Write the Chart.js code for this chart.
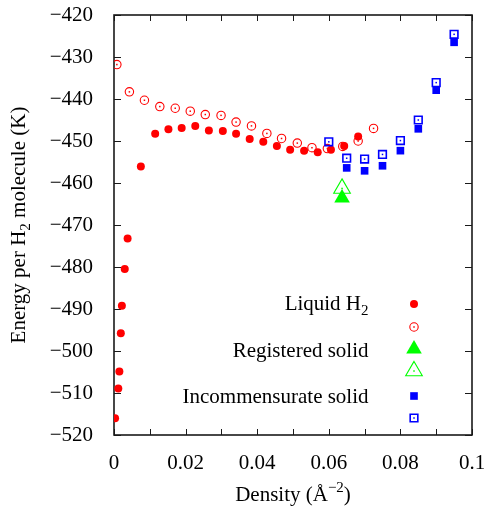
<!DOCTYPE html>
<html>
<head>
<meta charset="utf-8">
<script src="https://cdn.jsdelivr.net/npm/chart.js@4.4.0/dist/chart.umd.min.js"></script>
<style>
  html, body { margin: 0; padding: 0; background: #fff; }
</style>
</head>
<body>
<canvas id="chart" width="488" height="508"></canvas>
<script>
// density in 1/A^2, energy per H2 molecule in K
const liquidDensity = [0.0003, 0.0012, 0.0015, 0.0019, 0.0022, 0.0030, 0.0038, 0.0075, 0.0115, 0.0152, 0.0189, 0.0227,
  0.0265, 0.0304, 0.0341, 0.0379, 0.0417, 0.0455, 0.0492, 0.0531, 0.0569, 0.0606, 0.0643, 0.0682]
const liquidEnergy = [-516.0, -508.9, -504.9, -495.8, -489.2, -480.5, -473.2, -456.1, -448.3, -447.2, -446.9, -446.4,
  -447.5, -447.6, -448.3, -449.5, -450.2, -451.2, -452.1, -452.3, -452.7, -452.1, -451.2, -448.9]
const liquidOpenDensity = [0.0008, 0.0043, 0.0085, 0.0128, 0.0171, 0.0213, 0.0255, 0.0299, 0.0341, 0.0384, 0.0427,
  0.0468, 0.0512, 0.0553, 0.0596, 0.0639, 0.0682, 0.0725]
const liquidOpenEnergy = [-431.8, -438.3, -440.3, -441.8, -442.2, -442.9, -443.7, -443.9, -445.5, -446.4, -448.2,
  -449.4, -450.5, -451.6, -451.8, -451.3, -450.0, -447.0]
const registeredDensity = [0.0637]
const registeredEnergy = [-463.6]
const registeredOpenDensity = [0.0637]
const registeredOpenEnergy = [-461.3]
const incommDensity = [0.065, 0.070, 0.075, 0.080, 0.085, 0.090, 0.095]
const incommEnergy = [-456.4, -457.1, -455.9, -452.3, -447.1, -437.9, -426.5]
const incommOpenDensity = [0.060, 0.065, 0.070, 0.075, 0.080, 0.085, 0.090, 0.095]
const incommOpenEnergy = [-450.2, -454.1, -454.3, -453.2, -449.9, -445.0, -436.1, -424.6]

const xTickLabels = ['0', '0.02', '0.04', '0.06', '0.08', '0.1']
const yTickLabels = ['−520', '−510', '−500', '−490', '−480', '−470', '−460', '−450', '−440', '−430', '−420']
const legendLabels = ['Liquid H', 'Registered solid', 'Incommensurate solid']

const FONT = '"Liberation Serif", "DejaVu Serif", serif'
const RED = '#ff0000', GREEN = '#00ff00', BLUE = '#0000ff'

function pts(xs, ys) {
  return xs.map((d, i) => ({ x: d, y: ys[i] }))
}

// filled and hollow markers; hollow ones get a dot in the middle like gnuplot
const sets = [
  { data: pts(liquidDensity, liquidEnergy), style: 'circle', r: 4, color: RED, open: false, lw: 0 },
  { data: pts(liquidOpenDensity, liquidOpenEnergy), style: 'circle', r: 4.2, color: RED, open: true, lw: 1.1 },
  { data: pts(registeredDensity, registeredEnergy), style: 'triangle', r: 9, color: GREEN, open: false, lw: 0 },
  { data: pts(registeredOpenDensity, registeredOpenEnergy), style: 'triangle', r: 9.6, color: GREEN, open: true, lw: 1.1 },
  { data: pts(incommDensity, incommEnergy), style: 'rect', r: 5.4, color: BLUE, open: false, lw: 0 },
  { data: pts(incommOpenDensity, incommOpenEnergy), style: 'rect', r: 5.4, color: BLUE, open: true, lw: 1.6 }
]

// draws text with raised or lowered parts
function richText(ctx, parts, x, y, align) {
  let w = 0
  parts.forEach(p => { ctx.font = p.size + 'px ' + FONT; p.w = ctx.measureText(p.t).width; w += p.w })
  let cx = align === 'right' ? x - w : align === 'center' ? x - w / 2 : x
  ctx.textAlign = 'left'
  ctx.textBaseline = 'alphabetic'
  parts.forEach(p => {
    ctx.font = p.size + 'px ' + FONT
    ctx.fillText(p.t, cx, y + (p.dy || 0))
    cx += p.w
  })
}

function marker(ctx, s, x, y) {
  ctx.fillStyle = s.open ? 'rgba(0,0,0,0)' : s.color
  ctx.strokeStyle = s.color
  ctx.lineWidth = s.lw
  Chart.helpers.drawPoint(ctx, { pointStyle: s.style, radius: s.r, rotation: 0, borderWidth: s.lw }, x, y)
  if (s.open) {
    ctx.fillStyle = s.color
    ctx.fillRect(x - 0.75, y - 0.75, 1.5, 1.5)
  }
}

const decor = {
  id: 'decor',
  beforeDatasetsDraw(chart) {
    const { ctx, chartArea: a, scales: { x, y } } = chart
    ctx.save()
    ctx.strokeStyle = '#1a1a1a'
    ctx.lineWidth = 1
    ctx.beginPath()
    x.ticks.forEach(t => {
      const px = Math.round(x.getPixelForValue(t.value)) + 0.5
      ctx.moveTo(px, a.bottom); ctx.lineTo(px, a.bottom - 6)
      ctx.moveTo(px, a.top); ctx.lineTo(px, a.top + 6)
    })
    y.ticks.forEach(t => {
      const py = Math.round(y.getPixelForValue(t.value)) + 0.5
      ctx.moveTo(a.left, py); ctx.lineTo(a.left + 7, py)
      ctx.moveTo(a.right, py); ctx.lineTo(a.right - 7, py)
    })
    ctx.stroke()
    ctx.lineWidth = 1.6
    ctx.strokeRect(a.left, a.top, a.right - a.left, a.bottom - a.top)
    ctx.restore()
  },
  afterDatasetsDraw(chart) {
    // centre dots of the hollow markers
    const { ctx } = chart
    ctx.save()
    sets.forEach((s, i) => {
      if (!s.open) return
      ctx.fillStyle = s.color
      chart.getDatasetMeta(i).data.forEach(el => {
        ctx.fillRect(el.x - 0.75, el.y - 0.75, 1.5, 1.5)
      })
    })
    ctx.restore()
  },
  afterDraw(chart) {
    const { ctx, chartArea: a } = chart
    const w = a.right - a.left
    ctx.save()
    ctx.fillStyle = '#000'
    // x axis title
    richText(ctx, [
      { t: 'Density (Å', size: 21 },
      { t: '−2', size: 15, dy: -9 },
      { t: ')', size: 21 }
    ], (a.left + a.right) / 2, a.bottom + 66, 'center')
    // y axis title
    ctx.save()
    ctx.translate(25, (a.top + a.bottom) / 2)
    ctx.rotate(-Math.PI / 2)
    richText(ctx, [
      { t: 'Energy per H', size: 21 },
      { t: '2', size: 15, dy: 5 },
      { t: ' molecule (K)', size: 21 }
    ], 0, 0, 'center')
    ctx.restore()
    // key
    const tx = a.left + w * 0.711
    const mx = a.left + w * 0.838
    ctx.fillStyle = '#000'
    richText(ctx, [{ t: legendLabels[0], size: 21 }, { t: '2', size: 15, dy: 5 }], tx, a.top + 295, 'right')
    richText(ctx, [{ t: legendLabels[1], size: 21 }], tx, a.top + 342, 'right')
    richText(ctx, [{ t: legendLabels[2], size: 21 }], tx, a.top + 388, 'right')
    const rows = [289, 312, 334, 356, 381, 403]
    sets.forEach((s, i) => marker(ctx, s, mx, a.top + rows[i]))
    ctx.restore()
  }
}

// keep tick labels from pushing the plot frame around
function noOverhang(s) {
  s.paddingTop = 0
  s.paddingBottom = 0
  s.paddingLeft = 0
  s.paddingRight = 0
}

new Chart(document.getElementById('chart'), {
  type: 'scatter',
  data: {
    datasets: sets.map((s, i) => ({
      data: s.data,
      pointStyle: s.style,
      pointRadius: s.r,
      backgroundColor: s.open ? 'rgba(0,0,0,0)' : s.color,
      borderColor: s.color,
      borderWidth: s.lw,
      order: sets.length - i
    }))
  },
  options: {
    responsive: false,
    animation: false,
    layout: { padding: { top: 15, right: 16, left: 0, bottom: 0 } },
    plugins: { legend: { display: false }, tooltip: { enabled: false } },
    scales: {
      x: {
        type: 'linear',
        min: 0,
        max: 0.1,
        grid: { display: false },
        border: { display: false },
        afterFit: s => { s.height = 73; noOverhang(s) },
        ticks: {
          stepSize: 0.01,
          padding: 8,
          color: '#000',
          maxRotation: 0,
          autoSkip: false,
          font: { family: FONT, size: 21 },
          callback: v => {
            const k = Math.round(v * 100)
            return k % 2 === 0 ? xTickLabels[k / 2] : ''
          }
        }
      },
      y: {
        min: -520,
        max: -420,
        grid: { display: false },
        border: { display: false },
        afterFit: s => { s.width = 114; noOverhang(s) },
        ticks: {
          stepSize: 10,
          padding: 13,
          color: '#000',
          font: { family: FONT, size: 21 },
          callback: v => yTickLabels[Math.round((v + 520) / 10)]
        }
      }
    }
  },
  plugins: [decor]
})
</script>
</body>
</html>
